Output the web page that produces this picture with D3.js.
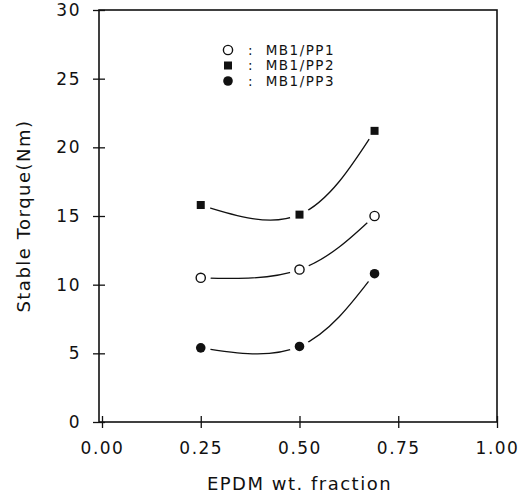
<!DOCTYPE html>
<html>
<head>
<meta charset="utf-8">
<script src="https://cdn.jsdelivr.net/npm/d3@7"></script>
<style>
  body { margin: 0; background: #fff; }
  svg text { font-family: "DejaVu Sans", sans-serif; fill: #111; }
</style>
</head>
<body>
<div id="chart"></div>
<script>
// data
var fractions = [0.25, 0.5, 0.69],
    pp1 = [10.5, 11.1, 15.0],
    pp2 = [15.8, 15.1, 21.2],
    pp3 = [5.4, 5.5, 10.8],
    seriesNames = ["MB1/PP1", "MB1/PP2", "MB1/PP3"],
    xTicks = [0, 0.25, 0.5, 0.75, 1.0],
    yTicks = [0, 5, 10, 15, 20, 25, 30];

var margin = {top: 10, right: 34, bottom: 81, left: 102},
    width = 531 - margin.left - margin.right,
    height = 503 - margin.top - margin.bottom;

var x = d3.scaleLinear().domain([0, 1]).range([0, width]);
var y = d3.scaleLinear().domain([0, 30]).range([height, 0]);

var svg = d3.select("#chart").append("svg")
    .attr("width", 531)
    .attr("height", 503)
  .append("g")
    .attr("transform", "translate(" + margin.left + "," + margin.top + ")");

// frame
svg.append("rect")
    .attr("x", -3).attr("y", 0)
    .attr("width", width + 3).attr("height", height)
    .attr("fill", "none")
    .attr("stroke", "#111")
    .attr("stroke-width", 1.6);

var xAxis = svg.append("g")
    .attr("transform", "translate(0," + height + ")")
    .call(d3.axisBottom(x).tickValues(xTicks).tickSizeInner(6).tickSizeOuter(0)
      .tickFormat(d3.format(".2f")));
xAxis.select(".domain").remove();
xAxis.selectAll(".tick line").attr("y1", -6).attr("stroke", "#111").attr("stroke-width", 1.3);
xAxis.selectAll(".tick text")
    .attr("y", 20)
    .attr("dy", "0.71em")
    .style("font-size", "17px")
    .style("letter-spacing", "1.5px");

var yAxis = svg.append("g")
    .attr("transform", "translate(-3,0)")
    .call(d3.axisLeft(y).tickValues(yTicks).tickSizeInner(6).tickSizeOuter(0));
yAxis.select(".domain").remove();
yAxis.selectAll(".tick line").attr("x1", -6).attr("x2", 6).attr("stroke", "#111").attr("stroke-width", 1.3);
yAxis.selectAll(".tick text")
    .attr("x", -18)
    .style("font-size", "17px")
    .style("letter-spacing", "1.5px");

svg.append("text")
    .attr("x", x(0.5))
    .attr("y", height + 68)
    .attr("text-anchor", "middle")
    .style("font-size", "18px")
    .style("letter-spacing", "1.5px")
    .text("EPDM wt. fraction");

svg.append("text")
    .attr("transform", "translate(-72," + (height / 2) + ") rotate(-90)")
    .attr("text-anchor", "middle")
    .style("font-size", "18px")
    .style("letter-spacing", "1.5px")
    .text("Stable Torque(Nm)");

var series = [
  {name: seriesNames[0], values: pp1, shape: "open"},
  {name: seriesNames[1], values: pp2, shape: "square"},
  {name: seriesNames[2], values: pp3, shape: "filled"}
];

var line = d3.line()
    .x(function(d, i) { return x(fractions[i]); })
    .y(function(d) { return y(d); })
    .curve(d3.curveNatural);

svg.selectAll(".curve")
    .data(series)
  .enter().append("path")
    .attr("class", "curve")
    .attr("d", function(d) { return line(d.values); })
    .attr("fill", "none")
    .attr("stroke", "#111")
    .attr("stroke-width", 1.3);

function drawMarker(g, shape) {
  if (shape === "square") {
    g.append("rect").attr("x", -4).attr("y", -4).attr("width", 8).attr("height", 8).attr("fill", "#111");
  } else if (shape === "open") {
    g.append("circle").attr("r", 4.6).attr("fill", "#fff").attr("stroke", "#111").attr("stroke-width", 1.4);
  } else {
    g.append("circle").attr("r", 4.8).attr("fill", "#111");
  }
}

series.forEach(function(s) {
  s.values.forEach(function(v, i) {
    var g = svg.append("g")
        .attr("transform", "translate(" + x(fractions[i]) + "," + y(v) + ")");
    // white halo leaves a gap between curve and marker
    g.append("circle").attr("r", 10).attr("fill", "#fff");
    drawMarker(g, s.shape);
  });
});

// legend
var legend = svg.selectAll(".legend")
    .data(series)
  .enter().append("g")
    .attr("class", "legend")
    .attr("transform", function(d, i) { return "translate(126," + (40 + i * 15.5) + ")"; });

legend.each(function(d) { drawMarker(d3.select(this), d.shape); });

legend.append("text")
    .attr("x", 20)
    .attr("dy", "0.36em")
    .style("font-size", "13.5px")
    .style("letter-spacing", "1.5px")
    .attr("xml:space", "preserve")
    .text(function(d) { return ":  " + d.name; });
</script>
</body>
</html>
